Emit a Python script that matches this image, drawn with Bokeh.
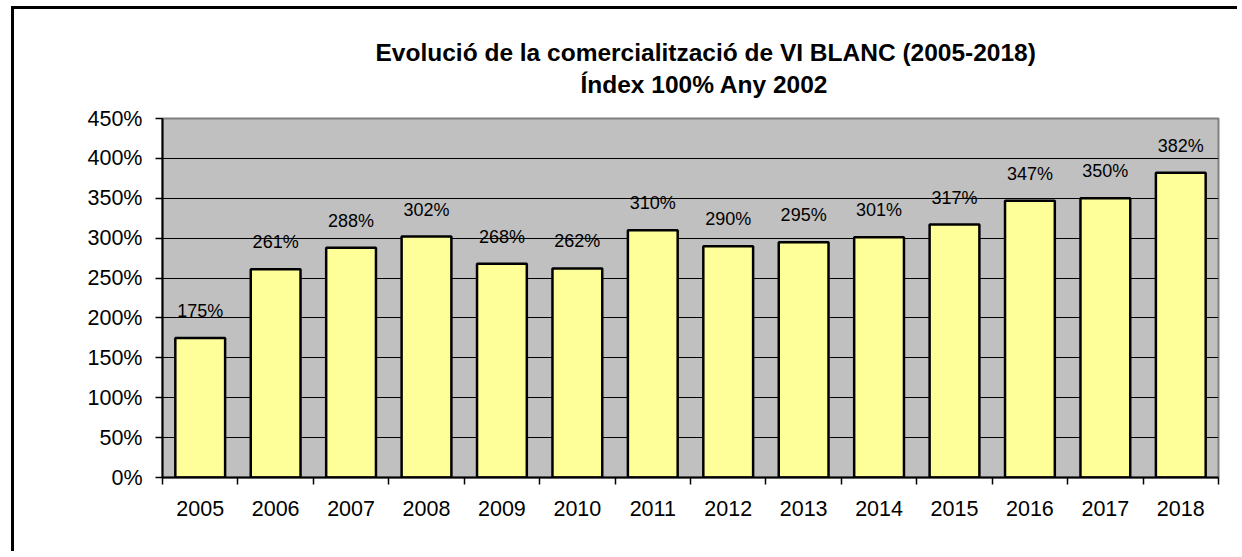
from bokeh.plotting import figure
from bokeh.models import Range1d, FixedTicker, Title, ColumnDataSource
from bokeh.core.properties import value
from bokeh.embed import file_html
from bokeh.resources import INLINE

years = ["2005", "2006", "2007", "2008", "2009", "2010", "2011",
         "2012", "2013", "2014", "2015", "2016", "2017", "2018"]
values = [175, 261, 288, 302, 268, 262, 310, 290, 295, 301, 317, 347, 350, 382]
y_ticks = [0, 50, 100, 150, 200, 250, 300, 350, 400, 450]
title_line1 = "Evolució de la comercialització de VI BLANC (2005-2018)"
title_line2 = "Índex 100% Any 2002"

FONT = "Liberation Sans"

xs = [i + 0.5 for i in range(len(years))]
src = ColumnDataSource(dict(x=xs, top=values, lab=[f"{v}%" for v in values]))

p = figure(width=1226, height=545, output_backend="svg", toolbar_location=None,
           x_range=Range1d(0, len(years)), y_range=Range1d(0, 450),
           min_border_left=148, min_border_right=22, min_border_top=109,
           min_border_bottom=77,
           styles={"border-left": "3px solid black", "border-top": "3px solid black",
                   "margin-left": "11px", "margin-top": "6px"})

p.background_fill_color = "#C0C0C0"
p.border_fill_color = "white"
p.outline_line_color = "#808080"
p.outline_line_width = 2

p.vbar(x="x", top="top", width=0.66, bottom=0, source=src,
       fill_color="#FFFF99", line_color="black", line_width=2.5)

p.text(x="x", y="top", text="lab", source=src, text_align="center",
       text_baseline="bottom", y_offset=-17, text_font=value(FONT),
       text_font_size="18px", text_color="black")

# axes
p.xaxis.ticker = FixedTicker(ticks=xs, minor_ticks=list(range(len(years) + 1)))
p.xaxis.major_label_overrides = {x: y for x, y in zip(xs, years)}
p.xaxis.major_tick_out = 0
p.xaxis.major_tick_in = 0
p.xaxis.minor_tick_out = 7
p.xaxis.minor_tick_in = 0
p.xaxis.minor_tick_line_color = "black"
p.xaxis.minor_tick_line_width = 1.5
p.xaxis.axis_line_color = "black"
p.xaxis.axis_line_width = 2
p.xaxis.major_label_text_font = FONT
p.xaxis.major_label_text_font_size = "21.5px"
p.xaxis.major_label_text_color = "black"
p.xaxis.major_label_standoff = 16

p.yaxis.ticker = FixedTicker(ticks=y_ticks)
p.yaxis.major_label_overrides = {v: f"{v}%" for v in y_ticks}
p.yaxis.major_tick_out = 7
p.yaxis.major_tick_in = 0
p.yaxis.minor_tick_line_color = None
p.yaxis.major_tick_line_color = "black"
p.yaxis.major_tick_line_width = 1.5
p.yaxis.axis_line_color = "black"
p.yaxis.axis_line_width = 2
p.yaxis.major_label_text_font = FONT
p.yaxis.major_label_text_font_size = "21.5px"
p.yaxis.major_label_text_color = "black"
p.yaxis.major_label_standoff = 13

p.xgrid.grid_line_color = None
p.ygrid.ticker = FixedTicker(ticks=y_ticks[1:-1])
p.ygrid.grid_line_color = "black"
p.ygrid.grid_line_width = 1

t2 = Title(text=title_line2, align="left", offset=418, standoff=42, text_font=FONT,
           text_font_size="24.5px", text_font_style="bold", text_color="black")
t1 = Title(text=title_line1, align="left", offset=213, standoff=-37, text_font=FONT,
           text_font_size="24.5px", text_font_style="bold", text_color="black")
p.add_layout(t2, "above")
p.add_layout(t1, "above")

open("out.html", "w").write(file_html(p, INLINE))
